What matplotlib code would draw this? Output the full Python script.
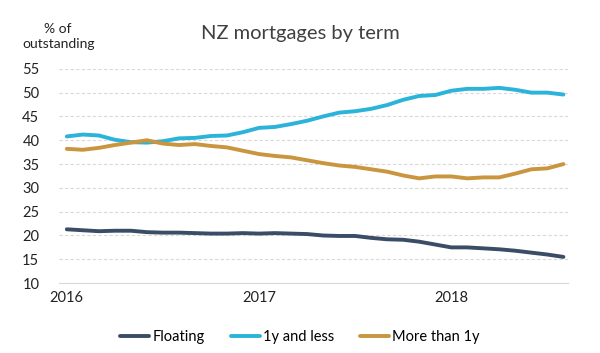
import matplotlib.pyplot as plt

# monthly, Jan 2016 - Aug 2018
floating = [21.3, 21.1, 20.9, 21.0, 21.0, 20.7, 20.6, 20.6, 20.5, 20.4, 20.4, 20.5,
            20.4, 20.5, 20.4, 20.3, 20.0, 19.9, 19.9, 19.5, 19.2, 19.1, 18.7, 18.1,
            17.5, 17.5, 17.3, 17.1, 16.8, 16.4, 16.0, 15.5]
short_term = [40.8, 41.2, 41.0, 40.1, 39.6, 39.5, 39.8, 40.4, 40.5, 40.9, 41.0, 41.7,
              42.6, 42.8, 43.4, 44.1, 45.0, 45.8, 46.1, 46.6, 47.4, 48.5, 49.3, 49.5,
              50.4, 50.8, 50.8, 51.0, 50.6, 50.0, 50.0, 49.6]
long_term = [38.2, 38.0, 38.4, 39.0, 39.5, 40.0, 39.3, 39.0, 39.2, 38.8, 38.5, 37.8,
             37.1, 36.7, 36.4, 35.8, 35.2, 34.7, 34.4, 33.9, 33.4, 32.6, 32.0, 32.4,
             32.4, 32.0, 32.2, 32.2, 33.0, 33.9, 34.1, 35.0]
series_names = ["Floating", "1y and less", "More than 1y"]
colors = ["#3b4c66", "#2cb3d9", "#c9963f"]
year_labels = ["2016", "2017", "2018"]

plt.rcParams["font.family"] = ["Lato", "DejaVu Sans"]

months = list(range(len(floating)))

fig = plt.figure(figsize=(6, 3.53), dpi=100)
ax = fig.add_axes([0.098, 0.198, 0.849, 0.607])

for data, name, c in zip([floating, short_term, long_term], series_names, colors):
    ax.plot(months, data, color=c, lw=2.8, label=name, solid_capstyle="round")

ax.set_ylim(10, 55)
ax.set_xlim(-0.5, 31.3)
ax.set_yticks(range(10, 56, 5))
ax.set_xticks([0, 12, 24])
ax.set_xticklabels(year_labels)
ax.tick_params(length=0, labelsize=10.5, colors="#222222", pad=6)
ax.tick_params(axis="y", pad=14)

ax.grid(axis="y", color="#d9d9d9", ls=(0, (3, 2)), lw=0.8)
ax.set_axisbelow(True)
for s in ["top", "right", "left"]:
    ax.spines[s].set_visible(False)
ax.spines["bottom"].set_color("#d9d9d9")

fig.text(0.5, 0.905, "NZ mortgages by term", ha="center", va="center",
         fontsize=14.5, color="#404040")
fig.text(0.097, 0.898, "% of\noutstanding", ha="center", va="center",
         fontsize=10, color="#222222", linespacing=1.3)

fig.legend(loc="center", bbox_to_anchor=(0.5, 0.045), ncol=3, frameon=False,
           fontsize=10.5, handlelength=2.0, handletextpad=0.2, columnspacing=1.8)

fig.savefig("out.png", dpi=100, facecolor="white")
